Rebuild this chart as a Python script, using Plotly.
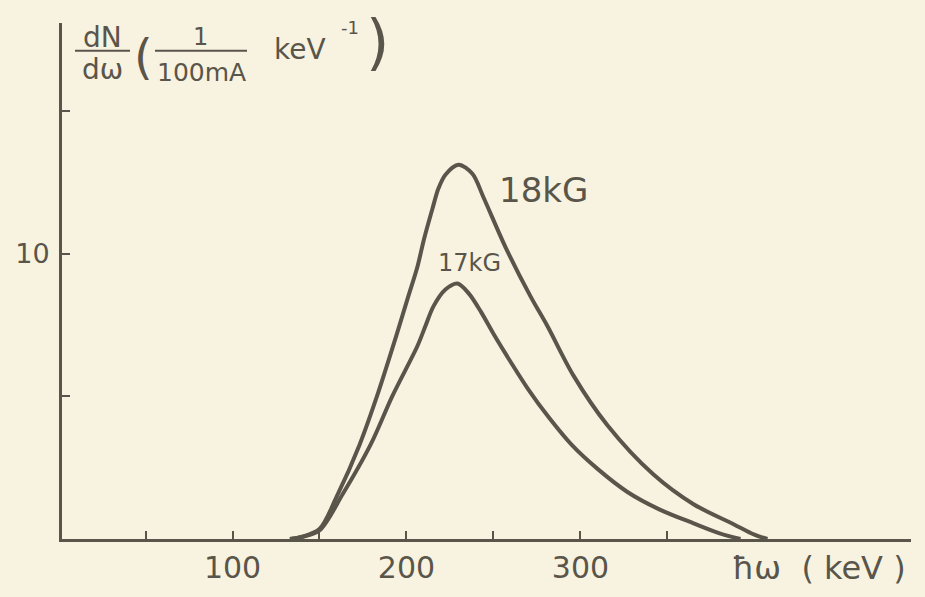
import plotly.graph_objects as go

# Photon energy (keV) and spectral intensity dN/dω (per 100 mA per keV)
energy_18kG = [133, 140, 150, 160, 173, 183, 194, 201, 206.3, 210, 215, 218.4, 222.4,
               229.9, 237.9, 244.3, 256.9, 271.3, 281, 296, 315.5, 342, 365, 388, 400, 407.5]
dnde_18kG = [0, 0.08, 0.35, 1.5, 3.3, 5.0, 7.1, 8.5, 9.55, 10.5, 11.6, 12.3, 12.78,
             13.13, 12.81, 11.98, 10.24, 8.51, 7.47, 5.73, 3.99, 2.26, 1.22, 0.52, 0.15, 0]

energy_17kG = [133, 140, 150, 163.2, 179.3, 192, 206.3, 210.9, 215.5, 222.4, 229.3,
               236, 243, 250, 260, 270, 282, 295, 310, 327, 345, 365, 380, 392]
dnde_17kG = [0, 0.07, 0.3, 1.56, 3.3, 5.03, 6.77, 7.47, 8.16, 8.75, 8.96,
             8.6, 7.95, 7.2, 6.2, 5.25, 4.25, 3.3, 2.45, 1.65, 1.05, 0.55, 0.2, 0]

x_tick_vals = [50, 100, 150, 200, 250, 300, 350]
x_tick_text = ["", "100", "", "200", "", "300", ""]
y_tick_vals = [5, 10, 15]
y_tick_text = ["", "10", ""]

series_names = ["18kG", "17kG"]

ink = "#5a554a"
paper = "#f7f3e0"
font_family = "DejaVu Sans"

fig = go.Figure()
fig.add_trace(go.Scatter(x=energy_18kG, y=dnde_18kG, mode="lines", name=series_names[0],
                         line=dict(color=ink, width=4, shape="spline", smoothing=0.9)))
fig.add_trace(go.Scatter(x=energy_17kG, y=dnde_17kG, mode="lines", name=series_names[1],
                         line=dict(color=ink, width=4, shape="spline", smoothing=0.9)))

fig.update_layout(
    width=925, height=597,
    margin=dict(l=62, r=14, t=23, b=43),
    paper_bgcolor=paper, plot_bgcolor=paper,
    showlegend=False,
    font=dict(family=font_family, color=ink),
)
fig.update_xaxes(range=[2, 490], showgrid=False, zeroline=False,
                 showline=True, linecolor=ink, linewidth=3,
                 ticks="inside", ticklen=8, tickwidth=2, tickcolor=ink,
                 tickvals=x_tick_vals, ticktext=x_tick_text,
                 tickfont=dict(size=30, color=ink), ticklabelstandoff=0)
fig.update_yaxes(range=[0, 18.1], showgrid=False, zeroline=False,
                 showline=True, linecolor=ink, linewidth=3,
                 ticks="inside", ticklen=8, tickwidth=2, tickcolor=ink,
                 tickvals=y_tick_vals, ticktext=y_tick_text,
                 tickfont=dict(size=27, color=ink), ticklabelstandoff=4)

def ann(text, x, y, size):
    fig.add_annotation(text=text, x=x, y=y, xref="paper", yref="paper",
                       xanchor="center", yanchor="middle", showarrow=False,
                       font=dict(size=size, color=ink, family=font_family))

# helpers: convert target pixel positions to paper fractions of the plot area
def px(xp):
    return (xp - 62) / (911 - 62)
def py(yp):
    return (545 - yp) / (545 - 23)

# curve labels
ann(series_names[0], px(543), py(192), 34)
ann(series_names[1], px(469), py(266), 24)

# x axis title
ann("ħω&nbsp;&nbsp;(&nbsp;keV&nbsp;)", px(819), py(574), 32)

# y axis title drawn as fractions
ann("dN", px(102), py(38), 28)
ann("dω", px(102), py(70), 28)
ann("(", px(143), py(57), 48)
ann("1", px(200), py(37), 24)
ann("100mA", px(201), py(73), 25)
ann("keV", px(300), py(50), 28)
ann("-1", px(350), py(28), 18)
ann(")", px(377), py(42), 60)

fig.add_shape(type="line", xref="paper", yref="paper",
              x0=px(75), x1=px(130), y0=py(51), y1=py(51), line=dict(color=ink, width=2))
fig.add_shape(type="line", xref="paper", yref="paper",
              x0=px(155), x1=px(247), y0=py(51), y1=py(51), line=dict(color=ink, width=2))

page_js = (
    "document.documentElement.style.margin='0';"
    "document.documentElement.style.padding='0';"
    "document.documentElement.style.overflow='hidden';"
    "document.body.style.margin='0';"
    "document.body.style.padding='0';"
    "document.body.style.overflow='hidden';"
    "document.body.style.background='%s';" % paper
)
fig.write_html("out.html", config={"displayModeBar": False, "responsive": False},
               post_script=page_js)
